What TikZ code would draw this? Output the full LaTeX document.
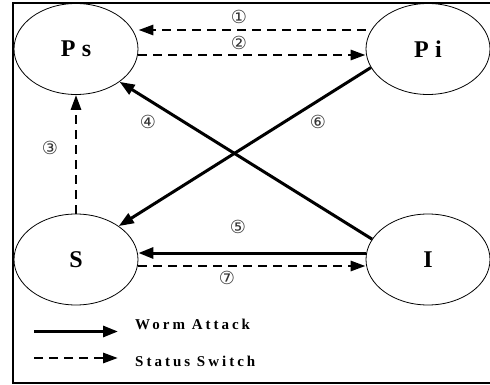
\documentclass[tikz,border=0pt]{standalone}
\usepackage{fontspec}
\setmainfont{Liberation Serif}
\newfontfamily\nodefont[LetterSpace=26]{Liberation Serif}
\newfontfamily\legfont[LetterSpace=20]{Liberation Serif}
\newfontfamily\circfont{DejaVu Sans}
\usetikzlibrary{arrows.meta,shapes.geometric}
\begin{document}
\begin{tikzpicture}[x=1pt,y=-1pt,
  state/.style={draw, ellipse, line width=0.8pt, minimum width=124pt, minimum height=91pt,
    inner sep=0pt, font=\nodefont\fontsize{24}{24}\selectfont\bfseries},
  attack/.style={line width=3pt, -{Triangle[length=15pt,width=11pt]}},
  switch/.style={line width=2.8pt, dash pattern=on 9pt off 6pt, -{Triangle[length=15pt,width=10pt]}},
  num/.style={font=\circfont\fontsize{18}{18}\selectfont, text=black!80, inner sep=0pt},
  legtext/.style={anchor=west, inner sep=0pt, font=\legfont\fontsize{15}{15}\selectfont\bfseries},
  frame/.style={line width=1.5pt}]
\useasboundingbox (0,0) rectangle (490,385);
\draw[frame] (490,3) -- (13,3) -- (13,383) -- (490,383);

\node[state] (Ps) at (76,49) {Ps};
\node[state] (Pi) at (428,49) {Pi};
\node[state] (S) at (76,259.5) {S};
\node[state] (I) at (428,259.5) {I};

% arrows
\draw[switch] ([yshift=19pt]Pi.west) -- ([yshift=19pt]Ps.east);
\draw[switch] ([yshift=-6pt]Ps.east) -- ([yshift=-6pt]Pi.west);
\draw[switch] (S.north) -- (Ps.south);
\draw[attack] (I.160) -- (Ps.-37);
\draw[attack] (Pi.198) -- (S.38);
\draw[attack] ([yshift=6.5pt]I.west) -- ([yshift=6.5pt]S.east);
\draw[switch] ([yshift=-6.5pt]S.east) -- ([yshift=-6.5pt]I.west);

% labels
\node[num] (n1) at (239,17) {①};
\node[num] (n2) at (239,43) {②};
\node[num] (n3) at (50,148) {③};
\node[num] (n4) at (148,122) {④};
\node[num] (n5) at (238,227) {⑤};
\node[num] (n6) at (318,122) {⑥};
\node[num] (n7) at (227,278) {⑦};

% legend
\coordinate (la1) at (34,331.5);
\coordinate (lb1) at (118,331.5);
\coordinate (la2) at (34,358);
\coordinate (lb2) at (118,358);
\draw[attack] (la1) -- (lb1);
\draw[switch] (la2) -- (lb2);
\node[legtext] (t1) at (135,324.5) {Worm Attack};
\node[legtext] (t2) at (135,361) {Status Switch};
\end{tikzpicture}
\end{document}
